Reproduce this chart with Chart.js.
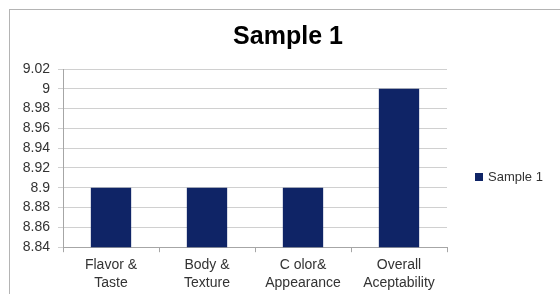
<!DOCTYPE html>
<html>
<head>
<meta charset="utf-8">
<script src="https://cdn.jsdelivr.net/npm/chart.js@4/dist/chart.umd.min.js"></script>
<style>
  html, body { margin: 0; padding: 0; background: #fff; overflow: hidden; }
  #wrap { position: relative; width: 560px; height: 294px; }
  #frame { position: absolute; left: 9px; top: 9px; width: 600px; height: 320px;
           border: 1px solid #b4b4b4; box-sizing: border-box; pointer-events: none; }
</style>
</head>
<body>
<div id="wrap">
  <canvas id="myChart" width="560" height="294"></canvas>
  <div id="frame"></div>
</div>
<script>
//  Chart data
const categories = [['Flavor &', 'Taste'], ['Body &', 'Texture'], ['C olor&', 'Appearance'], ['Overall', 'Aceptability']];
const sample1 = [8.9, 8.9, 8.9, 9.0];
const yTicks = [8.84, 8.86, 8.88, 8.9, 8.92, 8.94, 8.96, 8.98, 9, 9.02];
const seriesName = 'Sample 1';

const FONT = "'Liberation Sans', Arial, sans-serif";
const BAR_COLOR = '#0f2466';

//  Simple legend drawn to the right of the plot, like the original one.
//  Also re-centres the title over the whole frame instead of the plot.
const sideLegend = {
    id: 'sideLegend',
    afterLayout(chart) {
        if (chart.titleBlock) {
            chart.titleBlock.left = 10;
            chart.titleBlock.right = 566;
            chart.titleBlock.width = 556;
        }
    },
    afterDraw(chart) {
        const ctx = chart.ctx;
        const area = chart.chartArea;
        const x = area.right + 28;
        const y = 177;
        chart.data.datasets.forEach((ds, i) => {
            ctx.save();
            ctx.fillStyle = ds.backgroundColor;
            ctx.fillRect(x, y - 4 + i * 20, 8, 8);
            ctx.fillStyle = '#333';
            ctx.font = '13px ' + FONT;
            ctx.textBaseline = 'middle';
            ctx.fillText(ds.label, x + 13, y + i * 20);
            ctx.restore();
        });
    }
};

function draw_graph() {
    const ctx = document.getElementById('myChart');
    new Chart(ctx, {
        type: 'bar',
        data: {
            labels: categories,
            datasets: [{
                label: seriesName,
                data: sample1,
                backgroundColor: BAR_COLOR,
                barPercentage: 0.42,
                categoryPercentage: 1
            }]
        },
        options: {
            responsive: false,
            animation: false,
            layout: { padding: { left: 10, right: 113, top: 0, bottom: -2 } },
            plugins: {
                legend: { display: false },
                tooltip: { enabled: false },
                title: {
                    display: true,
                    text: seriesName,
                    color: '#000',
                    font: { family: FONT, size: 25, weight: 'bold' },
                    padding: { top: 22, bottom: 17 }
                }
            },
            scales: {
                x: {
                    grid: { drawOnChartArea: false, tickLength: 5, color: '#a6a6a6' },
                    border: { color: '#a6a6a6' },
                    ticks: {
                        color: '#333',
                        padding: 3,
                        maxRotation: 0,
                        font: { family: FONT, size: 14, lineHeight: 1.35 }
                    }
                },
                y: {
                    min: 8.84,
                    max: 9.02,
                    afterBuildTicks: s => { s.ticks = yTicks.map(v => ({ value: v })); },
                    afterFit: s => { s.width = 53; },
                    grid: { color: '#d0d0d0', tickLength: 5 },
                    border: { color: '#a6a6a6' },
                    ticks: {
                        color: '#333',
                        padding: 8,
                        autoSkip: false,
                        font: { family: FONT, size: 14 },
                        callback: v => String(Number(v.toFixed(2)))
                    }
                }
            }
        },
        plugins: [sideLegend]
    });
}
draw_graph();
</script>
</body>
</html>
